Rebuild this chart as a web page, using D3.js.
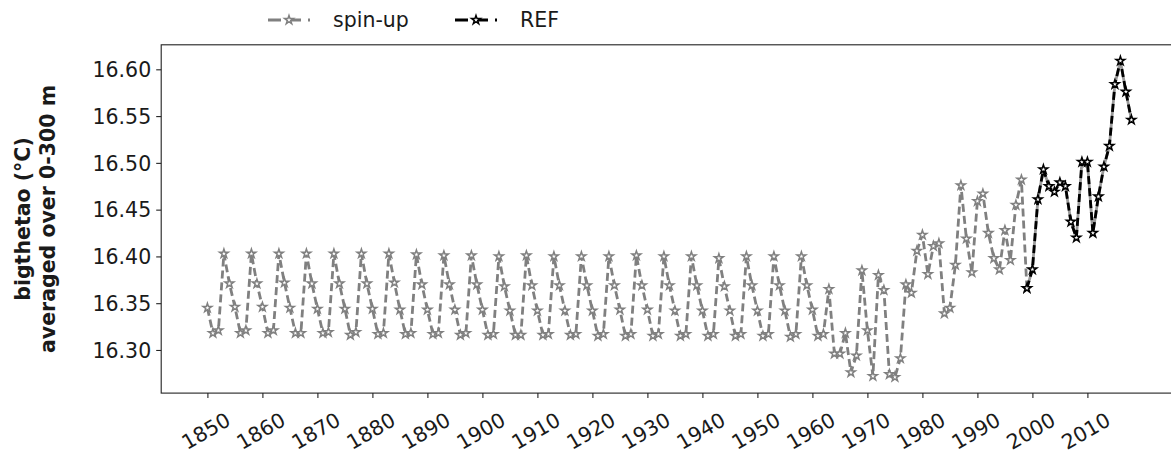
<!DOCTYPE html>
<html>
<head>
<meta charset="utf-8">
<script src="https://cdn.jsdelivr.net/npm/d3@7"></script>
<style>
  body { margin: 0; background: #fff; }
  svg text { font-family: "DejaVu Sans", sans-serif; fill: #1a1a1a; }
</style>
</head>
<body>
<svg id="chart" width="1171" height="450"></svg>
<script>
// yearly values
var spinStart = 1850;
var spinUp = [
  16.345, 16.318, 16.321, 16.403, 16.371,
  16.346, 16.318, 16.321, 16.403, 16.371,
  16.346, 16.318, 16.321, 16.403, 16.372,
  16.345, 16.318, 16.318, 16.403, 16.371,
  16.344, 16.318, 16.319, 16.403, 16.371,
  16.344, 16.316, 16.319, 16.403, 16.371,
  16.344, 16.317, 16.318, 16.403, 16.372,
  16.343, 16.317, 16.318, 16.402, 16.370,
  16.343, 16.317, 16.318, 16.401, 16.370,
  16.343, 16.316, 16.318, 16.401, 16.370,
  16.343, 16.316, 16.317, 16.400, 16.368,
  16.342, 16.316, 16.316, 16.401, 16.369,
  16.342, 16.316, 16.317, 16.400, 16.369,
  16.342, 16.316, 16.317, 16.400, 16.369,
  16.342, 16.315, 16.317, 16.400, 16.369,
  16.343, 16.315, 16.317, 16.401, 16.369,
  16.343, 16.315, 16.317, 16.400, 16.369,
  16.342, 16.315, 16.317, 16.400, 16.369,
  16.342, 16.315, 16.317, 16.398, 16.368,
  16.342, 16.315, 16.317, 16.400, 16.369,
  16.342, 16.315, 16.317, 16.400, 16.369,
  16.342, 16.314, 16.317, 16.400, 16.369,
  16.343, 16.315, 16.317, 16.365, 16.296,
  16.296, 16.318, 16.276, 16.294, 16.385,
  16.321, 16.272, 16.380, 16.364, 16.274,
  16.271, 16.291, 16.370, 16.361, 16.406,
  16.423, 16.381, 16.411, 16.414, 16.339,
  16.345, 16.391, 16.476, 16.419, 16.383,
  16.459, 16.467, 16.425, 16.398, 16.386,
  16.428, 16.396, 16.455, 16.482, 16.366
];
var refStart = 1999;
var refValues = [
  16.366, 16.386, 16.461, 16.493, 16.475, 16.469, 16.479, 16.475, 16.437, 16.420,
  16.501, 16.501, 16.425, 16.464, 16.496, 16.518, 16.584, 16.609, 16.576, 16.546
];
var xTicks = [1850, 1860, 1870, 1880, 1890, 1900, 1910, 1920, 1930, 1940, 1950, 1960, 1970, 1980, 1990, 2000, 2010];
var yTicks = [16.30, 16.35, 16.40, 16.45, 16.50, 16.55, 16.60];
var seriesNames = ['spin-up', 'REF'];

var toPoints = function(start, vals) {
  return vals.map(function(v, i) { return {year: start + i, value: v}; });
};
var spinData = toPoints(spinStart, spinUp);
var refData = toPoints(refStart, refValues);

var svg = d3.select('#chart');
var fontSize = 20.5;

var x = d3.scaleLinear().domain([1841.6, 2026.4]).range([161.2, 1177.6]);
var y = d3.scaleLinear().domain([16.2539, 16.6262]).range([393.1, 44.8]);

var plotLeft = x.range()[0], plotRight = x.range()[1];
var plotTop = y.range()[1], plotBottom = y.range()[0];

// y axis
var yAxis = svg.append('g')
    .attr('transform', 'translate(' + plotLeft + ',0)')
    .call(d3.axisLeft(y).tickValues(yTicks).tickFormat(d3.format('.2f')).tickSize(5).tickPadding(5));
yAxis.select('.domain').remove();
yAxis.selectAll('text').style('font-size', fontSize + 'px').attr('dy', '0.35em');

// x axis, labels turned 30 degrees and centred under the tick
var xAxis = svg.append('g')
    .attr('transform', 'translate(0,' + plotBottom + ')')
    .call(d3.axisBottom(x).tickValues(xTicks).tickFormat(d3.format('d')).tickSize(5));
xAxis.select('.domain').remove();
xAxis.selectAll('text')
    .style('font-size', fontSize + 'px')
    .attr('text-anchor', 'middle')
    .attr('dy', '0.35em')
    .attr('y', 0)
    .attr('transform', 'translate(-2,38) rotate(-30)');

svg.selectAll('.tick line').attr('stroke', '#222').attr('stroke-width', 1.1);

// frame
svg.append('rect')
    .attr('x', plotLeft).attr('y', plotTop)
    .attr('width', plotRight - plotLeft).attr('height', plotBottom - plotTop)
    .attr('fill', 'none').attr('stroke', '#222').attr('stroke-width', 1.1);

// y label, two lines
var ylab = svg.append('text')
    .attr('transform', 'translate(0,219) rotate(-90)')
    .attr('text-anchor', 'middle')
    .style('font-size', fontSize + 'px')
    .style('font-weight', 'bold');
ylab.append('tspan').attr('x', 0).attr('y', 30).text('bigthetao (°C)');
ylab.append('tspan').attr('x', 0).attr('y', 54.6).text('averaged over 0-300 m');

var line = d3.line()
    .x(function(d) { return x(d.year); })
    .y(function(d) { return y(d.value); });

var star = d3.symbol().type(d3.symbolStar).size(24);

var plot = svg.append('g');

var drawSeries = function(data, color, halo) {
  if (halo) {
    plot.append('path').datum(data)
        .attr('d', line).attr('fill', 'none')
        .attr('stroke', '#9a9a9a').attr('stroke-width', 2.8);
  }
  plot.append('path').datum(data)
      .attr('d', line).attr('fill', 'none')
      .attr('stroke', color).attr('stroke-width', 2.8)
      .attr('stroke-dasharray', '8,4');
  plot.selectAll(null).data(data).enter().append('path')
      .attr('d', star)
      .attr('transform', function(d) { return 'translate(' + x(d.year) + ',' + y(d.value) + ')'; })
      .attr('fill', '#fff').attr('stroke', color).attr('stroke-width', 1.5);
};

drawSeries(spinData, '#808080', false);
drawSeries(refData, '#000', true);

// legend
var legendItems = [
  {name: seriesNames[0], color: '#808080', x0: 268, tx: 333},
  {name: seriesNames[1], color: '#000', x0: 455, tx: 520}
];
var legend = svg.append('g');
legendItems.forEach(function(it) {
  legend.append('line')
      .attr('x1', it.x0).attr('x2', it.x0 + 42)
      .attr('y1', 20).attr('y2', 20)
      .attr('stroke', it.color).attr('stroke-width', 2.8)
      .attr('stroke-dasharray', '13,7');
  legend.append('path')
      .attr('d', star)
      .attr('transform', 'translate(' + (it.x0 + 21) + ',20)')
      .attr('fill', '#fff').attr('stroke', it.color).attr('stroke-width', 1.5);
  legend.append('text')
      .attr('x', it.tx).attr('y', 27)
      .style('font-size', fontSize + 'px')
      .text(it.name);
});
</script>
</body>
</html>
